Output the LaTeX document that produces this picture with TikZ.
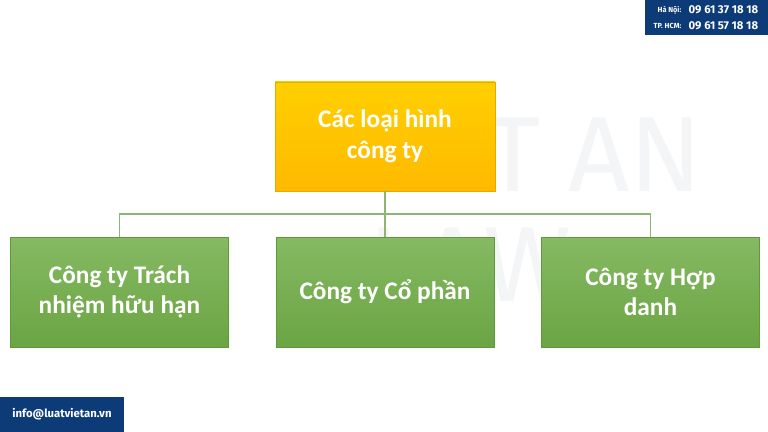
\documentclass[tikz,border=0pt]{standalone}
\usepackage{fontspec}
\setmainfont{Carlito}
\newfontfamily\tagfont{Fira Sans}
\usetikzlibrary{positioning}
\definecolor{topfill}{HTML}{FFC000}
\definecolor{topedge}{HTML}{E8A800}
\definecolor{leaffill}{HTML}{70AD47}
\definecolor{leafedge}{HTML}{5E9A38}
\definecolor{wire}{HTML}{8FB574}
\definecolor{navy}{HTML}{0D3B78}
\definecolor{mark}{HTML}{F3F5F7}
\tikzset{
  rootbox/.style={draw=topedge, top color=topfill!75!yellow, bottom color=topfill!90!orange, minimum width=165pt, minimum height=82pt, align=center, text=white, font=\fontsize{19}{23}\selectfont\bfseries, inner sep=4pt},
  leafbox/.style={draw=leafedge, top color=leaffill!85!white, bottom color=leaffill!95!black, minimum width=163.5pt, minimum height=82.5pt, align=center, text=white, font=\fontsize{19}{23}\selectfont\bfseries, inner sep=4pt},
  wirestyle/.style={wire, line width=1.2pt},
  marktext/.style={text=mark, font=\tagfont\fontsize{80}{80}\selectfont}
}
\begin{document}
\begin{tikzpicture}[x=0.75pt, y=-0.75pt]
  \useasboundingbox (0,0) rectangle (768,432);
  \fill[white] (0,0) rectangle (768,432);
  % watermark
  \node[marktext] (markone) at (520,155) {VIET AN};
  \node[marktext] (marktwo) at (470,265) {LAW};
  % boxes
  \node[rootbox] (root) at (385,136.5) {Các loại hình\\công ty};
  \node[leafbox] (tnhh) at (119.5,292) {Công ty Trách\\nhiệm hữu hạn};
  \node[leafbox] (cophan) at (385,292) {Công ty Cổ phần};
  \node[leafbox] (hopdanh) at (650.5,292) {Công ty Hợp\\danh};
  \coordinate (split) at (385,214);
  % wires
  \draw[wirestyle] (root.south) -- (split);
  \draw[wirestyle] (tnhh.north) |- (split) -| (hopdanh.north);
  \draw[wirestyle] (split) -- (cophan.north);
  % corner tags
  \fill[navy] (645,0) rectangle (768,35);
  \node[text=white, font=\tagfont\fontsize{5.5}{6}\selectfont\bfseries, anchor=east] (hnlabel) at (686,10) {Hà Nội:};
  \node[text=white, font=\tagfont\fontsize{8.5}{9}\selectfont\bfseries, anchor=west] (hnphone) at (684,10) {09 61 37 18 18};
  \node[text=white, font=\tagfont\fontsize{5.5}{6}\selectfont\bfseries, anchor=east] (hcmlabel) at (686,26) {TP. HCM:};
  \node[text=white, font=\tagfont\fontsize{8.5}{9}\selectfont\bfseries, anchor=west] (hcmphone) at (684,26) {09 61 57 18 18};
  \fill[navy] (0,397) rectangle (124,432);
  \node[text=white, font=\tagfont\fontsize{8.5}{10}\selectfont\bfseries] (mail) at (62,414.5) {info@luatvietan.vn};
\end{tikzpicture}
\end{document}
